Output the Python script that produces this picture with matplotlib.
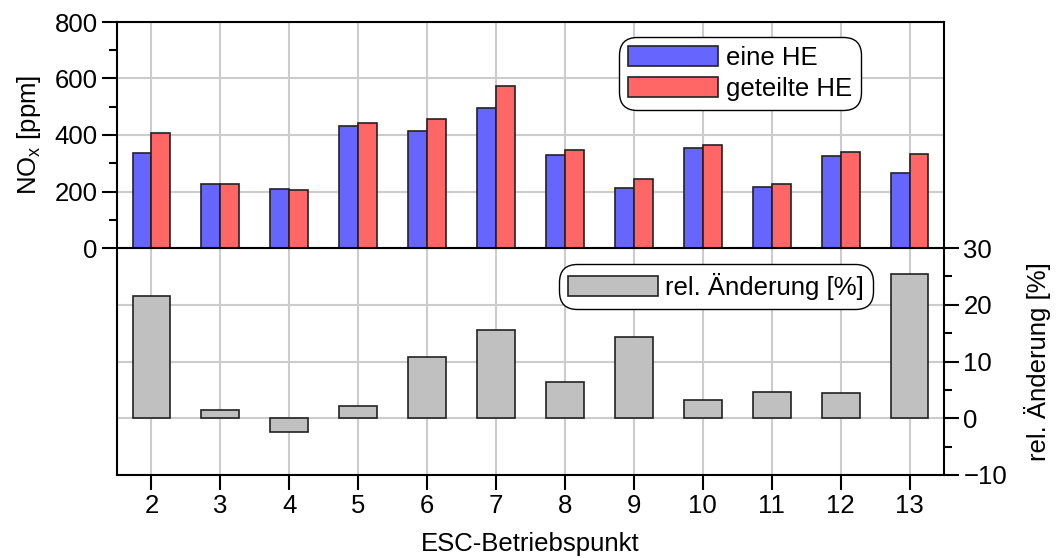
import matplotlib
matplotlib.use("Agg")
import matplotlib.pyplot as plt
import numpy as np
from matplotlib.ticker import MultipleLocator

plt.rcParams['font.family'] = ['Liberation Sans', 'DejaVu Sans']
plt.rcParams['mathtext.fontset'] = 'custom'
plt.rcParams['mathtext.rm'] = 'Liberation Sans'
plt.rcParams['mathtext.it'] = 'Liberation Sans'
plt.rcParams['font.size'] = 18.5

# ESC operating points and NOx values
punkte = [2, 3, 4, 5, 6, 7, 8, 9, 10, 11, 12, 13]
nox_eine = [336, 225, 208, 433, 414, 496, 328, 214, 353, 215, 326, 267]
nox_geteilt = [408, 227, 204, 444, 458, 572, 346, 244, 364, 227, 339, 334]
rel_aenderung = [21.5, 1.5, -2.4, 2.2, 10.8, 15.6, 6.3, 14.3, 3.2, 4.7, 4.4, 25.4]

blau = '#6666ff'
rot = '#ff6666'
grau = '#c0c0c0'
gridc = '#cccccc'

fig = plt.figure(figsize=(10.59, 5.58), dpi=100)
W, H = 1059, 558
x0, x1 = 117, 944
ax1 = fig.add_axes([x0 / W, 1 - 248 / H, (x1 - x0) / W, 226 / H])
ax2 = fig.add_axes([x0 / W, 1 - 475 / H, (x1 - x0) / W, 227 / H], sharex=ax1)

x = np.array(punkte)
bw = 0.275
ax1.bar(x - bw / 2, nox_eine, bw, color=blau, edgecolor='#222222', linewidth=1.2, label='eine HE')
ax1.bar(x + bw / 2, nox_geteilt, bw, color=rot, edgecolor='#222222', linewidth=1.2, label='geteilte HE')
ax2.bar(x, rel_aenderung, 2 * bw, color=grau, edgecolor='#222222', linewidth=1.2, label='rel. Änderung [%]')

for ax in (ax1, ax2):
    ax.set_axisbelow(True)
    ax.grid(True, color=gridc, linewidth=1.5)
    for s in ax.spines.values():
        s.set_linewidth(1.5)
    ax.tick_params(width=1.5, length=11, direction='out', pad=3)
    ax.tick_params(which='minor', width=1.5, length=5.5, direction='out')

ax1.set_xlim(1.5, 13.5)
ax1.set_xticks(punkte)
ax1.set_ylim(0, 800)
ax1.yaxis.set_major_locator(MultipleLocator(200))
ax1.yaxis.set_minor_locator(MultipleLocator(100))
ax1.spines['bottom'].set_visible(False)
ax1.tick_params(axis='x', bottom=False, labelbottom=False)
ax1.set_ylabel(r'NO$_\mathrm{x}$ [ppm]', labelpad=8)

ax2.set_ylim(-10, 30)
ax2.yaxis.set_major_locator(MultipleLocator(10))
ax2.yaxis.set_minor_locator(MultipleLocator(5))
ax2.yaxis.tick_right()
ax2.yaxis.set_label_position('right')
ax2.set_ylabel('rel. Änderung [%]', rotation=90, labelpad=12)
ax2.set_xlabel('ESC-Betriebspunkt', labelpad=10)
ax2.tick_params(axis='x', which='minor', bottom=False)

leg_opts = dict(loc='upper left', borderaxespad=0, fancybox=True, edgecolor='black',
                framealpha=1, handlelength=3.5, handleheight=0.82, handletextpad=0.3,
                labelspacing=0.3, borderpad=0.35, fontsize=18.5)
leg1 = ax1.legend(bbox_to_anchor=(0.607, 0.935), **leg_opts)
leg2 = ax2.legend(bbox_to_anchor=(0.534, 0.93), **leg_opts)
for leg in (leg1, leg2):
    leg.get_frame().set_linewidth(1.0)
    leg.get_frame().set_boxstyle('round', pad=0, rounding_size=0.7)

fig.savefig('out.png', dpi=100)
